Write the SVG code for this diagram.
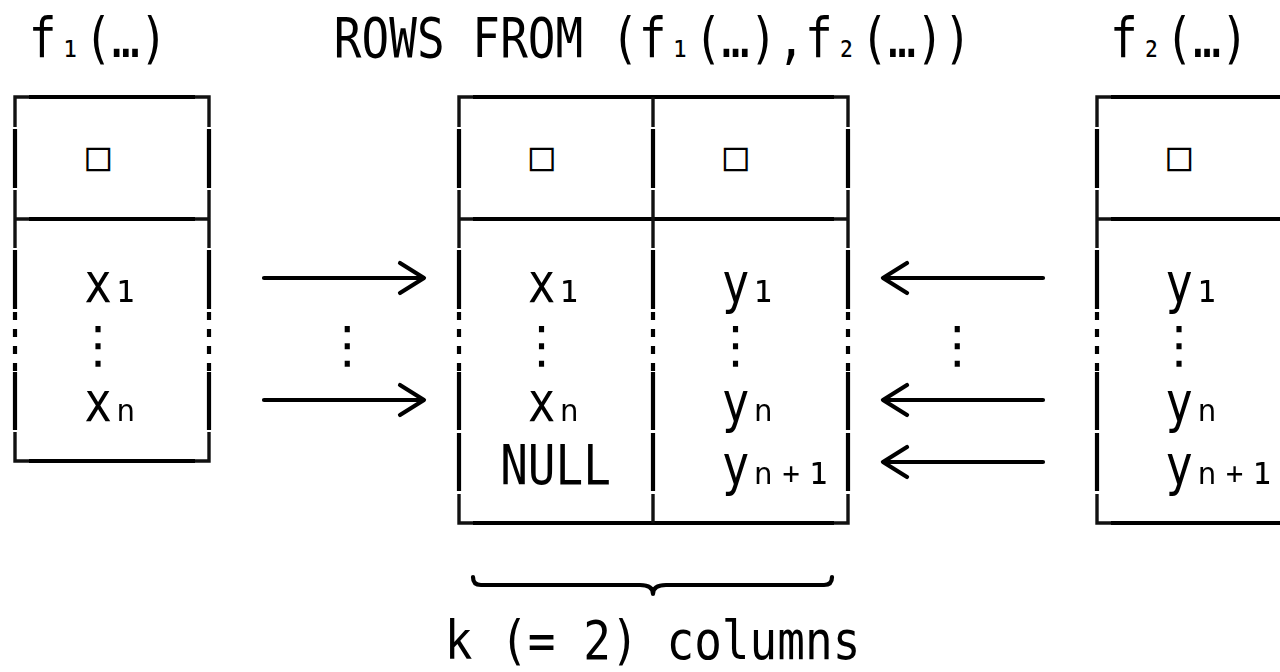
<svg xmlns="http://www.w3.org/2000/svg" width="1280" height="672" viewBox="0 0 1280 672">
<style>
.bg{fill:#fff}
.thick{fill:none;stroke:#000;stroke-width:4.2;stroke-linecap:butt}
.thin{fill:none;stroke:#111;stroke-width:3.4;stroke-linecap:butt;stroke-linejoin:miter}
.dash{fill:none;stroke:#000;stroke-width:4.2;stroke-dasharray:8 9}
.arrow{fill:none;stroke:#000;stroke-width:4.2;stroke-linecap:round;stroke-linejoin:round}
.t{font-family:"DejaVu Sans Mono","Liberation Mono",monospace;font-size:46px;text-anchor:middle;fill:#000}
.st{font-size:34px}
.sb{font-size:46px}
.sq{font-family:"DejaVu Sans Mono","DejaVu Sans",monospace;font-size:40px;text-anchor:middle;dominant-baseline:central;fill:#000}
.vd{font-family:"DejaVu Sans","Noto Sans",sans-serif;font-size:50px;text-anchor:middle;dominant-baseline:central;fill:#000}
</style>
<rect class="bg" x="0" y="0" width="1280" height="672"/>

<g id="titles">
<text class="t" transform="translate(0,57) scale(1,1.2)" x="42.7 70.4 98.2 125.9 153.6" y="0">f<tspan class="st">₁</tspan>(…)</text>
<text class="t" transform="translate(0,57) scale(1,1.2)" x="347.6 375.3 403.1 430.8 458.5 486.2 514 541.7 569.4 597.1 624.8 652.6 680.3 708 735.7 763.4 791.2 818.9 846.6 874.3 902 929.8 957.5" y="0">ROWS FROM (f<tspan class="st">₁</tspan>(…),f<tspan class="st">₂</tspan>(…))</text>
<text class="t" transform="translate(0,57) scale(1,1.2)" x="1123.8 1151.5 1179.2 1207 1234.7" y="0">f<tspan class="st">₂</tspan>(…)</text>
</g>

<g id="table-f1">
<path class="thick" d="M29,97 H195 M29,219 H195 M29,461 H195"/>
<path class="thin" d="M15,127 V97 H29 M195,97 H209 V127 M15,190 V248 M15,219 H29 M209,190 V248 M209,219 H195 M15,432 V461 H29 M209,432 V461 H195"/>
<path class="thick" d="M15,129 V188 M15,250 V309 M15,372 V430 M209,129 V188 M209,250 V309 M209,372 V430"/>
<path class="dash" d="M15,312 V372 M209,312 V372"/>
<text class="sq" x="98.2" y="156">□</text>
<text class="t" transform="translate(0,302) scale(1,1.2)" x="98.2 125.9" y="0">x<tspan class="sb">₁</tspan></text>
<text class="vd" x="98.2" y="345">⋮</text>
<text class="t" transform="translate(0,421) scale(1,1.2)" x="98.2 125.9" y="0">x<tspan class="sb">ₙ</tspan></text>
</g>

<g id="table-rows-from">
<path class="thick" d="M473,97 H834 M473,219 H834 M473,523 H834"/>
<path class="thin" d="M459,127 V97 H473 M834,97 H848 V127 M653,97 V127 M459,190 V248 M459,219 H473 M848,190 V248 M848,219 H834 M653,190 V248 M459,494 V523 H473 M848,494 V523 H834 M653,494 V523"/>
<path class="thick" d="M459,129 V188 M459,250 V309 M459,372 V430 M459,433 V491 M653,129 V188 M653,250 V309 M653,372 V430 M653,433 V491 M848,129 V188 M848,250 V309 M848,372 V430 M848,433 V491"/>
<path class="dash" d="M459,312 V372 M653,312 V372 M848,312 V372"/>
<text class="sq" x="541.7" y="156">□</text>
<text class="sq" x="735.7" y="156">□</text>
<text class="t" transform="translate(0,302) scale(1,1.2)" x="541.7 569.4" y="0">x<tspan class="sb">₁</tspan></text>
<text class="t" transform="translate(0,302) scale(1,1.2)" x="735.7 763.4" y="0">y<tspan class="sb">₁</tspan></text>
<text class="vd" x="541.7" y="345">⋮</text>
<text class="vd" x="735.7" y="345">⋮</text>
<text class="t" transform="translate(0,421) scale(1,1.2)" x="541.7 569.4" y="0">x<tspan class="sb">ₙ</tspan></text>
<text class="t" transform="translate(0,421) scale(1,1.2)" x="735.7 763.4" y="0">y<tspan class="sb">ₙ</tspan></text>
<text class="t" transform="translate(0,484) scale(1,1.2)" x="514 541.7 569.4 597.1" y="0">NULL</text>
<text class="t" transform="translate(0,484) scale(1,1.2)" x="735.7 763.4 791.2 818.9" y="0">y<tspan class="sb">ₙ₊₁</tspan></text>
</g>

<g id="table-f2">
<path class="thick" d="M1111,97 H1280 M1111,219 H1280 M1111,523 H1280"/>
<path class="thin" d="M1097,127 V97 H1111 M1097,190 V248 M1097,219 H1111 M1097,494 V523 H1111"/>
<path class="thick" d="M1097,129 V188 M1097,250 V309 M1097,372 V430 M1097,433 V491"/>
<path class="dash" d="M1097,312 V372"/>
<text class="sq" x="1179.2" y="156">□</text>
<text class="t" transform="translate(0,302) scale(1,1.2)" x="1179.2 1207" y="0">y<tspan class="sb">₁</tspan></text>
<text class="vd" x="1179.2" y="345">⋮</text>
<text class="t" transform="translate(0,421) scale(1,1.2)" x="1179.2 1207" y="0">y<tspan class="sb">ₙ</tspan></text>
<text class="t" transform="translate(0,484) scale(1,1.2)" x="1179.2 1207 1234.7 1262.4" y="0">y<tspan class="sb">ₙ₊₁</tspan></text>
</g>

<g id="connectors">
<path class="arrow" d="M264,278 H423 M400,263 L424,278 L400,293"/>
<path class="arrow" d="M264,400 H423 M400,385 L424,400 L400,415"/>
<path class="arrow" d="M1043,278 H885 M907,263 L883,278 L907,293"/>
<path class="arrow" d="M1043,400 H885 M907,385 L883,400 L907,415"/>
<path class="arrow" d="M1043,462 H885 M907,447 L883,462 L907,477"/>
<text class="vd" x="347.6" y="345">⋮</text>
<text class="vd" x="957.5" y="345">⋮</text>
</g>

<g id="brace">
<path class="arrow" d="M473,577 Q473,585 481,585 H640 Q653,585 653,594 Q653,585 666,585 H824 Q832,585 832,577"/>
<text class="t" transform="translate(0,659) scale(1,1.15)" x="458.5 486.2 514 541.7 569.4 597.1 624.8 652.6 680.3 708 735.7 763.4 791.2 818.9 846.6" y="0">k (= 2) columns</text>
</g>
</svg>
